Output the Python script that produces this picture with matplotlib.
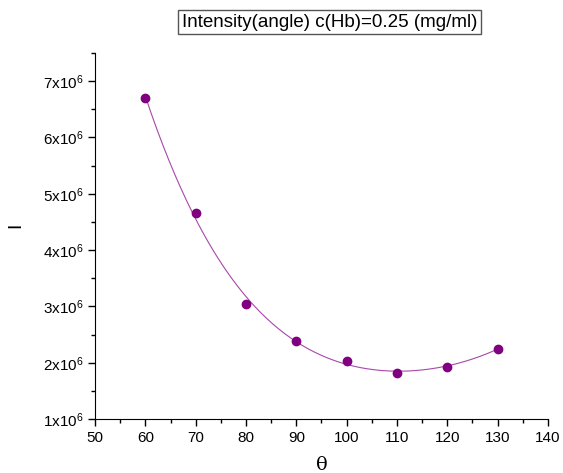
import numpy as np
import matplotlib
matplotlib.use("Agg")
from matplotlib import pyplot as plt
from matplotlib.ticker import MultipleLocator, FuncFormatter

# ----- DATA -----
theta = [60, 70, 80, 90, 100, 110, 120, 130]
intensity = [6.70e6, 4.65e6, 3.05e6, 2.39e6, 2.04e6, 1.82e6, 1.93e6, 2.25e6]
title_text = 'Intensity(angle) c(Hb)=0.25 (mg/ml)'

plt.rcParams['font.family'] = ['Liberation Sans', 'DejaVu Sans']
plt.rcParams['mathtext.fontset'] = 'custom'
plt.rcParams['mathtext.rm'] = 'Liberation Sans'

purple = '#800080'

fig = plt.figure(figsize=(5.63, 4.73), dpi=100)
ax = fig.add_axes([0.169, 0.114, 0.804, 0.774])

# smooth fit through the measured points
coef = np.polyfit(theta, intensity, 4)
xs = np.linspace(min(theta), max(theta), 300)
ax.plot(xs, np.polyval(coef, xs), color='#a848a8', linewidth=0.8)
ax.plot(theta, intensity, 'o', color=purple, markersize=6, linestyle='none')

ax.set_xlim(50, 140)
ax.set_ylim(1e6, 7.5e6)
ax.xaxis.set_major_locator(MultipleLocator(10))
ax.xaxis.set_minor_locator(MultipleLocator(5))
ax.yaxis.set_major_locator(MultipleLocator(1e6))
ax.yaxis.set_minor_locator(MultipleLocator(5e5))
ax.yaxis.set_major_formatter(FuncFormatter(lambda v, p: r'$\mathregular{%dx10^6}$' % round(v / 1e6)))

for s in ['top', 'right']:
    ax.spines[s].set_visible(False)
ax.tick_params(which='major', direction='out', length=5, width=1, labelsize=11, colors='black')
ax.tick_params(which='minor', direction='out', length=3, width=1)

ax.set_xlabel('θ', fontsize=14, family='DejaVu Serif', labelpad=8)
ax.set_ylabel('I', fontsize=14)
ax.yaxis.set_label_coords(-0.157, 0.53)

fig.text(0.586, 0.953, title_text, ha='center', va='center', fontsize=13.5,
         bbox=dict(facecolor='white', edgecolor='#555555', boxstyle='square,pad=0.2', linewidth=1))

fig.savefig('out.png', dpi=100)
